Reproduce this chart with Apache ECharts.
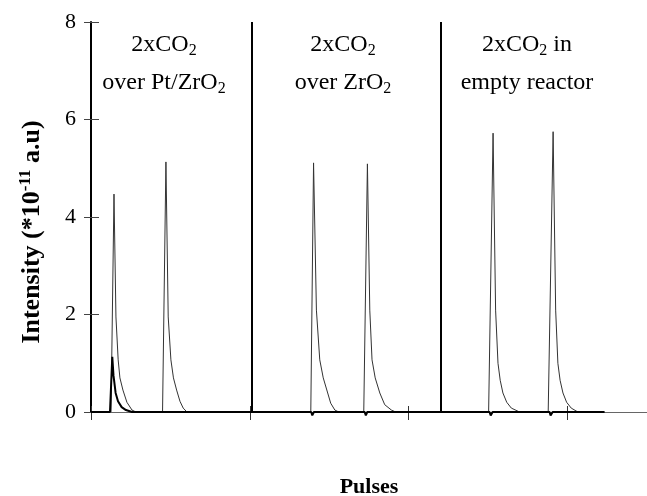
<!DOCTYPE html>
<html>
<head>
<meta charset="utf-8">
<script src="https://cdn.jsdelivr.net/npm/echarts@6/dist/echarts.min.js"></script>
<style>
html, body { margin: 0; padding: 0; background: #fff; }
#main { width: 647px; height: 496px; }
</style>
</head>
<body>
<div id="main"></div>
<script>
var dom = document.getElementById('main');
var myChart = echarts.init(dom, null, { renderer: 'canvas' });

// x in pulses, y in 1e-11 a.u.
const yTicks = [0, 2, 4, 6, 8];
const dividers = [1.013, 2.2];

// heavy black trace (baseline + small peak in first experiment)
const blackTrace = [
  [0, 0], [0.1195, 0], [0.134, 1.13], [0.1415, 0.75], [0.155, 0.39], [0.17, 0.22],
  [0.193, 0.1], [0.22, 0.04], [0.258, 0], [1.386, 0], [1.393, -0.07], [1.403, 0],
  [1.723, 0], [1.73, -0.07], [1.739, 0], [2.509, 0], [2.516, -0.07], [2.528, 0],
  [2.887, 0], [2.893, -0.07], [2.906, 0], [3.233, 0]
];

// thin traces, one per experiment
const ptZrO2Trace = [
  [0.126, 0], [0.1447, 4.47], [0.157, 1.95], [0.171, 1.07], [0.182, 0.7], [0.201, 0.45],
  [0.226, 0.2], [0.258, 0.04], [0.283, 0], [0.4503, 0], [0.4717, 5.13], [0.486, 1.95],
  [0.503, 1.07], [0.519, 0.7], [0.539, 0.45], [0.56, 0.22], [0.5805, 0.08], [0.604, 0]
];
const zrO2Trace = [
  [1.3836, 0], [1.401, 5.11], [1.419, 2.09], [1.44, 1.07], [1.462, 0.7], [1.49, 0.39],
  [1.509, 0.18], [1.535, 0.04], [1.56, 0], [1.717, 0], [1.74, 5.09], [1.755, 2.09],
  [1.769, 1.07], [1.789, 0.7], [1.818, 0.39], [1.849, 0.15], [1.891, 0.04], [1.918, 0]
];
const emptyTrace = [
  [2.503, 0], [2.531, 5.72], [2.547, 2.09], [2.562, 1.0], [2.576, 0.65], [2.593, 0.39],
  [2.617, 0.2], [2.646, 0.08], [2.698, 0], [2.878, 0], [2.909, 5.75], [2.925, 2.09],
  [2.939, 1.0], [2.953, 0.65], [2.971, 0.39], [2.994, 0.2], [3.023, 0.08], [3.065, 0]
];

const panelLabels = [
  '{t|2xCO}{s|2}\n{t|over Pt/ZrO}{s|2}',
  '{t|2xCO}{s|2}\n{t|over ZrO}{s|2}',
  '{t|2xCO}{s|2}{t| in}\n{t|empty reactor}'
];
const panelLabelX = [164, 343, 527];

const serif = 'Liberation Serif';
const labelRich = {
  t: { fontFamily: serif, fontSize: 24, color: '#000', lineHeight: 38 },
  s: { fontFamily: serif, fontSize: 16, color: '#000', padding: [12, 0, 0, 0] }
};

function thinLine(name, data) {
  return {
    name: name,
    type: 'line',
    data: data,
    showSymbol: false,
    silent: true,
    clip: false,
    lineStyle: { color: '#333', width: 1 },
    z: 3
  };
}

var option = {
  animation: false,
  backgroundColor: '#fff',
  grid: { left: 91, right: 0, top: 22, bottom: 84, outerBoundsMode: 'none', containLabel: false },
  xAxis: [
    {
      type: 'value',
      min: 0,
      max: 3.5,
      interval: 1,
      name: 'Pulses',
      nameLocation: 'middle',
      nameGap: 64,
      nameTextStyle: { fontFamily: serif, fontWeight: 'bold', fontSize: 22, color: '#000' },
      axisLine: { onZero: false, lineStyle: { color: '#000', width: 1 } },
      axisTick: { show: true, length: 8, lineStyle: { color: '#333' } },
      axisLabel: { show: false },
      splitLine: { show: false }
    },
    {
      type: 'value',
      min: 0,
      max: 3.5,
      interval: 1,
      position: 'bottom',
      axisLine: { show: false },
      axisTick: { show: true, inside: true, length: 6, lineStyle: { color: '#333' } },
      axisLabel: { show: false },
      splitLine: { show: false }
    },
    {
      type: 'value',
      min: 0,
      max: 3.5,
      position: 'top',
      axisLine: { show: true, lineStyle: { color: '#666', width: 1 } },
      axisTick: { show: false },
      axisLabel: { show: false },
      splitLine: { show: false }
    }
  ],
  yAxis: [
    {
      type: 'value',
      min: 0,
      max: 8,
      interval: 2,
      name: '{b|Intensity (*10}{sup|-11}{b| a.u)}',
      nameLocation: 'middle',
      nameGap: 44,
      nameRotate: 90,
      nameTextStyle: {
        fontFamily: serif, fontWeight: 'bold', fontSize: 26, color: '#000',
        padding: [0, 30, 0, 0],
        rich: {
          b: { fontFamily: serif, fontWeight: 'bold', fontSize: 26, color: '#000' },
          sup: { fontFamily: serif, fontWeight: 'bold', fontSize: 17, color: '#000', padding: [0, 0, 13, 0] }
        }
      },
      axisLine: { show: true, onZero: false, lineStyle: { color: '#000', width: 2 } },
      axisTick: { show: true, length: 7, lineStyle: { color: '#444' } },
      axisLabel: {
        margin: 15,
        fontFamily: serif, fontSize: 22, color: '#000',
        formatter: function (v) { return yTicks.indexOf(v) >= 0 ? String(v) : ''; }
      },
      splitLine: { show: false }
    },
    {
      type: 'value',
      min: 0,
      max: 8,
      interval: 2,
      position: 'left',
      axisLine: { show: false },
      axisTick: { show: true, inside: true, length: 8, lineStyle: { color: '#444' } },
      axisLabel: { show: false },
      splitLine: { show: false }
    }
  ],
  graphic: panelLabels.map(function (txt, i) {
    return {
      type: 'text',
      x: panelLabelX[i],
      y: 26,
      style: {
        text: txt,
        align: 'center',
        verticalAlign: 'top',
        rich: labelRich
      }
    };
  }),
  series: [
    {
      name: 'divider',
      type: 'line',
      data: [],
      markLine: {
        silent: true,
        symbol: 'none',
        label: { show: false },
        lineStyle: { color: '#000', width: 2, type: 'solid' },
        data: dividers.map(function (d) { return { xAxis: d }; })
      }
    },
    thinLine('Pt/ZrO2', ptZrO2Trace),
    thinLine('ZrO2', zrO2Trace),
    thinLine('empty', emptyTrace),
    {
      name: 'baseline',
      type: 'line',
      data: blackTrace,
      showSymbol: false,
      silent: true,
      clip: false,
      lineStyle: { color: '#000', width: 2 },
      z: 4
    }
  ]
};

myChart.setOption(option);
window.addEventListener('resize', myChart.resize);
</script>
</body>
</html>
